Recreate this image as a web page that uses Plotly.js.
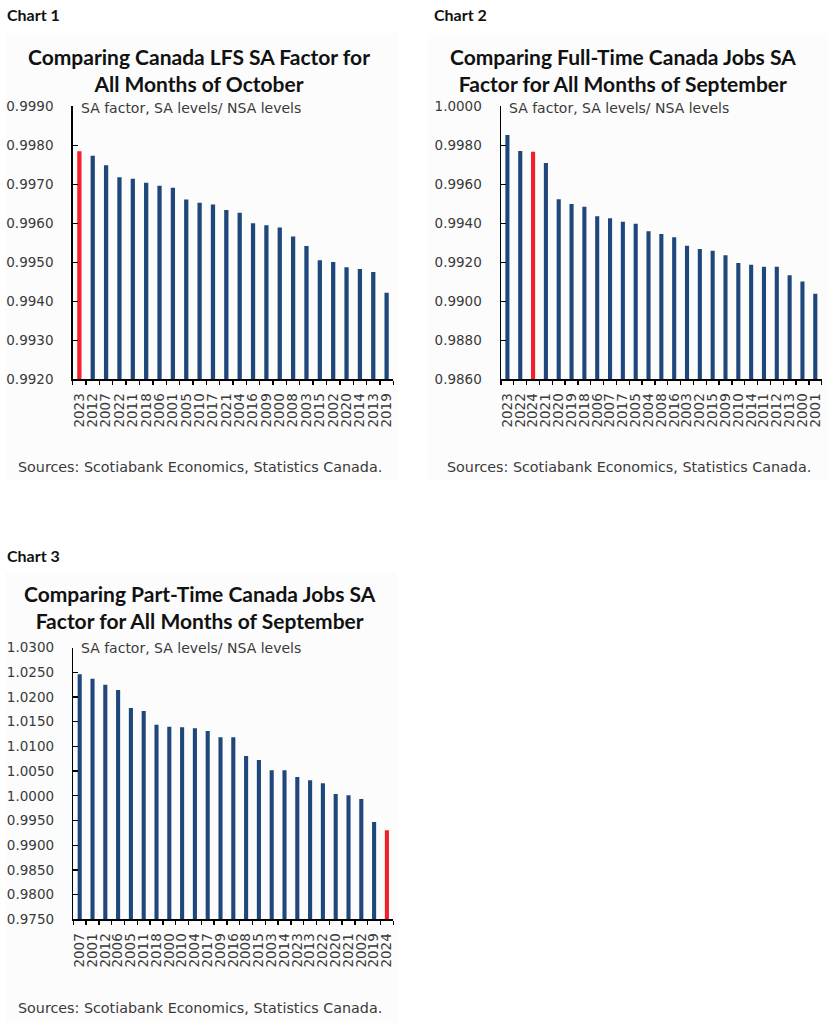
<!DOCTYPE html>
<html>
<head>
<meta charset="utf-8">
<script src="https://cdn.plot.ly/plotly-3.0.1.min.js"></script>
<style>
  html, body { margin: 0; padding: 0; background: #ffffff; }
  #charts { width: 828px; height: 1023px; }
</style>
</head>
<body>
<div id="charts"></div>
<script>
// Chart 1: LFS SA factor, all months of October
const chart1Years = ['2023', '2012', '2007', '2022', '2011', '2018', '2006', '2001', '2005', '2010', '2017', '2021',
    '2004', '2016', '2009', '2000', '2008', '2003', '2015', '2002', '2020', '2014', '2013', '2019'];
const chart1Values = [0.99785, 0.99773, 0.99749, 0.99718, 0.99714, 0.99704, 0.99696, 0.99691, 0.99661, 0.99653, 0.99648, 0.99634,
    0.99627, 0.99600, 0.99595, 0.99589, 0.99566, 0.99542, 0.99505, 0.99501, 0.99487, 0.99483, 0.99475, 0.99422];
const chart1Highlight = '2023';

// Chart 2: full-time jobs SA factor, all months of September
const chart2Years = ['2023', '2022', '2024', '2021', '2020', '2019', '2018', '2006', '2007', '2017', '2005', '2004', '2008',
    '2016', '2003', '2002', '2015', '2009', '2010', '2014', '2011', '2012', '2013', '2000', '2001'];
const chart2Values = [0.99853, 0.99771, 0.99767, 0.99709, 0.99523, 0.99499, 0.99485, 0.99436, 0.99426, 0.99408, 0.99398, 0.99359, 0.99345,
    0.99328, 0.99285, 0.99268, 0.99259, 0.99236, 0.99196, 0.99188, 0.99177, 0.99177, 0.99133, 0.99101, 0.99039];
const chart2Highlight = '2024';

// Chart 3: part-time jobs SA factor, all months of September
const chart3Years = ['2007', '2001', '2012', '2006', '2005', '2011', '2018', '2000', '2010', '2004', '2017', '2009', '2016',
    '2008', '2015', '2003', '2014', '2023', '2013', '2022', '2020', '2021', '2002', '2019', '2024'];
const chart3Values = [1.02460, 1.02371, 1.02249, 1.02142, 1.01777, 1.01717, 1.01439, 1.01399, 1.01387, 1.01366, 1.01312, 1.01184, 1.01184,
    1.00806, 1.00725, 1.00516, 1.00516, 1.00381, 1.00314, 1.00253, 1.00036, 1.00010, 0.99935, 0.99470, 0.99302];
const chart3Highlight = '2024';

const chartTitles = [
    'Comparing Canada LFS SA Factor for<br>All Months of October',
    'Comparing Full-Time Canada Jobs SA<br>Factor for All Months of September',
    'Comparing Part-Time Canada Jobs SA<br>Factor for All Months of September'
];
const unitLabel = 'SA factor, SA levels/ NSA levels';
const sourceLabel = 'Sources: Scotiabank Economics, Statistics Canada.';

const NAVY = '#1f477c';
const RED = '#f3202c';
const TEXT_FONT = 'DejaVu Sans, sans-serif';
const W = 828, H = 1023;

// pixel -> paper helpers
const px = x => x / W;
const py = y => 1 - y / H;

/**
 * Build a bar trace for one chart
 */
function makeBarTrace(years, values, highlight, axisSuffix) {
    return {
        type: 'bar',
        x: years,
        y: values,
        xaxis: 'x' + axisSuffix,
        yaxis: 'y' + axisSuffix,
        width: 0.32,
        marker: {
            color: years.map(y => y === highlight ? RED : NAVY),
            line: { width: 0 }
        },
        hoverinfo: 'x+y',
        showlegend: false
    };
}

function makeXAxis(left, right, anchor) {
    return {
        type: 'category',
        domain: [px(left), px(right)],
        anchor: anchor,
        tickmode: 'linear',
        tick0: 0,
        dtick: 1, // every year label, no auto thinning
        showline: true,
        linecolor: '#000000',
        linewidth: 1.5,
        showgrid: false,
        zeroline: false,
        ticks: 'outside',
        tickson: 'boundaries',
        ticklen: 4,
        tickwidth: 1.3,
        tickcolor: '#000000',
        tickangle: -90,
        ticklabelstandoff: 7,
        tickfont: { family: TEXT_FONT, size: 13.5, color: '#3a3a3a' },
        fixedrange: true
    };
}

function makeYAxis(bottom, top, range, dtick, anchor) {
    return {
        domain: [py(bottom), py(top)],
        anchor: anchor,
        range: range,
        dtick: dtick,
        tick0: range[0],
        tickformat: '.4f',
        showline: true,
        linecolor: '#000000',
        linewidth: 1.5,
        showgrid: false,
        zeroline: false,
        ticks: 'inside',
        ticklen: 5,
        tickwidth: 1.3,
        tickcolor: '#000000',
        ticklabelstandoff: 15,
        tickfont: { family: TEXT_FONT, size: 13.5, color: '#3a3a3a' },
        fixedrange: true
    };
}

function textAnn(text, x, y, size, bold, anchor) {
    return {
        xref: 'paper', yref: 'paper',
        x: px(x), y: py(y),
        xanchor: anchor || 'left',
        yanchor: 'middle',
        text: bold ? '<b>' + text + '</b>' : text,
        showarrow: false,
        align: 'center',
        font: {
            family: bold ? 'Lato, sans-serif' : TEXT_FONT,
            size: size,
            color: bold ? '#111111' : '#3a3a3a'
        }
    };
}

function renderCharts() {
    const data = [
        makeBarTrace(chart1Years, chart1Values, chart1Highlight, ''),
        makeBarTrace(chart2Years, chart2Values, chart2Highlight, '2'),
        makeBarTrace(chart3Years, chart3Values, chart3Highlight, '3')
    ];

    const annotations = [
        textAnn('Chart 1', 5, 15, 16, true),
        textAnn('Chart 2', 432, 15, 16, true),
        textAnn('Chart 3', 5, 555, 16, true),
        textAnn(chartTitles[0], 199, 70, 21, true, 'center'),
        textAnn(chartTitles[1], 623, 70, 21, true, 'center'),
        textAnn(chartTitles[2], 200, 607, 21, true, 'center'),
        textAnn(unitLabel, 79, 108, 14),
        textAnn(unitLabel, 507, 108, 14),
        textAnn(unitLabel, 79, 648, 14),
        textAnn(sourceLabel, 16, 467, 14.3),
        textAnn(sourceLabel, 445, 467, 14.3),
        textAnn(sourceLabel, 16, 1008, 14.3)
    ];

    // faint chart panels
    const panel = (x0, y0, x1, y1) => ({
        type: 'rect', xref: 'paper', yref: 'paper', layer: 'below',
        x0: px(x0), x1: px(x1), y0: py(y0), y1: py(y1),
        fillcolor: '#fcfcfc', line: { width: 0 }
    });

    const layout = {
        width: W,
        height: H,
        margin: { l: 0, r: 0, t: 0, b: 0, pad: 0 },
        paper_bgcolor: '#ffffff',
        plot_bgcolor: 'rgba(0,0,0,0)',
        showlegend: false,
        bargap: 0.68,
        xaxis: makeXAxis(72.7, 393.3, 'y'),
        yaxis: makeYAxis(379.3, 106.3, [0.9920, 0.9990], 0.001, 'x'),
        xaxis2: makeXAxis(501, 821.7, 'y2'),
        yaxis2: makeYAxis(379.3, 106.3, [0.9860, 1.0000], 0.002, 'x2'),
        xaxis3: makeXAxis(73.3, 393.3, 'y3'),
        yaxis3: makeYAxis(919.3, 647.6, [0.9750, 1.0300], 0.005, 'x3'),
        annotations: annotations,
        shapes: [
            panel(5, 33, 397, 480),
            panel(428, 33, 828, 480),
            panel(5, 573, 397, 1023)
        ],
        font: { family: TEXT_FONT, size: 14, color: '#3a3a3a' }
    };

    Plotly.newPlot('charts', data, layout, { displayModeBar: false, staticPlot: true });
}

renderCharts();
</script>
</body>
</html>
